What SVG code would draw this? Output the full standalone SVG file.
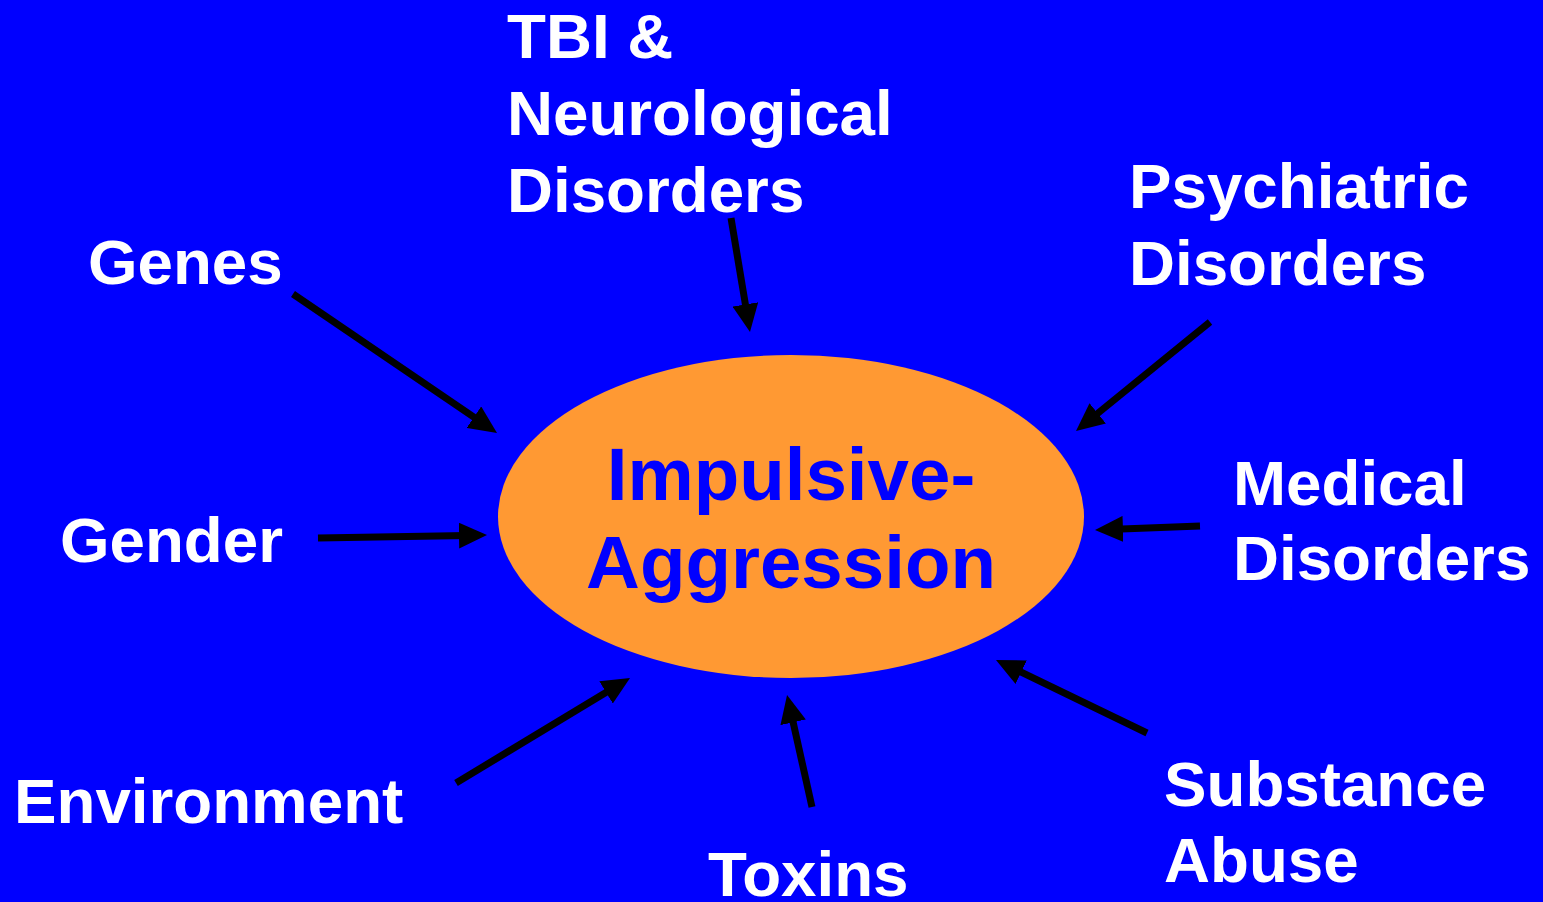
<svg xmlns="http://www.w3.org/2000/svg" width="1543" height="902" viewBox="0 0 1543 902">
<style>
.lbl{font-family:"Liberation Sans",Arial,sans-serif;font-weight:bold;font-size:63.7px;fill:#FFFFFF}
.ctr{font-family:"Liberation Sans",Arial,sans-serif;font-weight:bold;font-size:74.5px;fill:#0000FF;text-anchor:middle}
.arr{stroke:#000000;stroke-width:7;fill:none;marker-end:url(#ah)}
</style>
<defs>
<marker id="ah" viewBox="0 0 28 26" refX="8" refY="13" markerWidth="28" markerHeight="26" markerUnits="userSpaceOnUse" orient="auto">
<path d="M0,0 L28,13 L0,26 z" fill="#000000"/>
</marker>
</defs>
<rect width="1543" height="902" fill="#0000FF"/>
<g id="center">
<ellipse cx="791" cy="516.5" rx="293" ry="161.5" fill="#FF9933"/>
<text class="ctr" x="791" y="500">Impulsive-</text>
<text class="ctr" x="791" y="588">Aggression</text>
</g>
<g id="genes"><text class="lbl" x="88" y="284">Genes</text></g>
<g id="tbi"><text class="lbl" x="507" y="58">TBI &amp;</text><text class="lbl" x="507" y="135">Neurological</text><text class="lbl" x="507" y="212">Disorders</text></g>
<g id="psychiatric"><text class="lbl" x="1129" y="208">Psychiatric</text><text class="lbl" x="1129" y="285">Disorders</text></g>
<g id="medical"><text class="lbl" x="1233" y="505">Medical</text><text class="lbl" x="1233" y="580">Disorders</text></g>
<g id="gender"><text class="lbl" x="60" y="562">Gender</text></g>
<g id="environment"><text class="lbl" x="14" y="823">Environment</text></g>
<g id="toxins"><text class="lbl" x="708" y="896">Toxins</text></g>
<g id="substance"><text class="lbl" x="1164" y="806">Substance</text><text class="lbl" x="1164" y="882">Abuse</text></g>
<g id="connectors">
<line class="arr" x1="293" y1="294" x2="480.5" y2="421.7"/>
<line class="arr" x1="731" y1="218" x2="746.7" y2="312.3"/>
<line class="arr" x1="1210" y1="322" x2="1091.5" y2="418.4"/>
<line class="arr" x1="1200" y1="526" x2="1115" y2="529.2"/>
<line class="arr" x1="318" y1="538" x2="467" y2="535.4"/>
<line class="arr" x1="456" y1="783" x2="612.9" y2="688.3"/>
<line class="arr" x1="812" y1="807" x2="791.4" y2="714.5"/>
<line class="arr" x1="1147" y1="733" x2="1014" y2="668.7"/>
</g>
</svg>
